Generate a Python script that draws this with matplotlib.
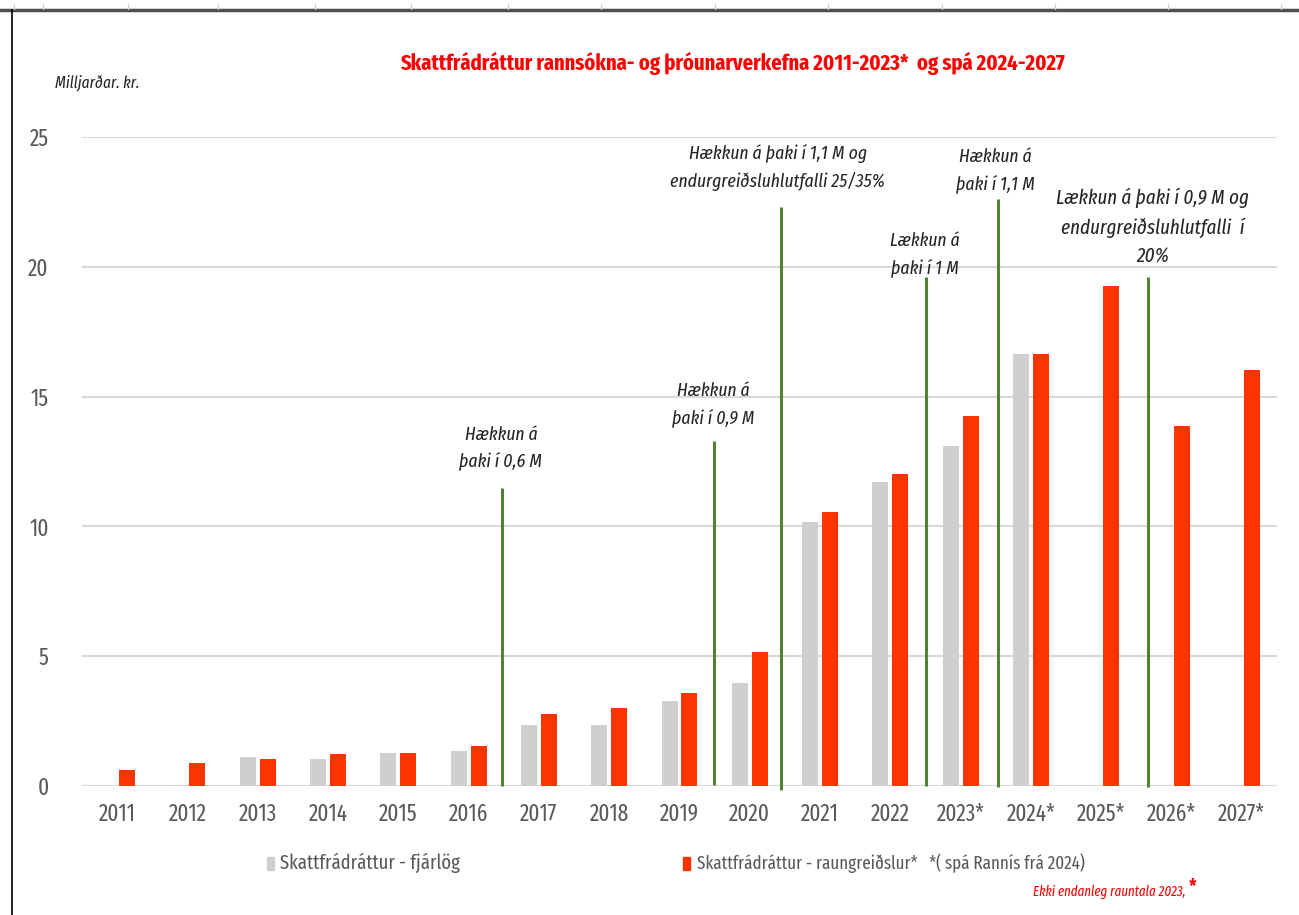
import matplotlib
matplotlib.use("Agg")
import matplotlib.pyplot as plt
from matplotlib.lines import Line2D
from matplotlib.patches import Rectangle
import numpy as np

FONT = ['Fira Sans Extra Condensed', 'DejaVu Sans']
plt.rcParams['font.family'] = FONT

years = ["2011", "2012", "2013", "2014", "2015", "2016", "2017", "2018", "2019",
         "2020", "2021", "2022", "2023*", "2024*", "2025*", "2026*", "2027*"]
fjarlog = [np.nan, np.nan, 1.12, 1.04, 1.27, 1.35, 2.35, 2.35, 3.27, 3.97,
           10.17, 11.71, 13.10, 16.64, np.nan, np.nan, np.nan]
raungreidslur = [0.62, 0.89, 1.04, 1.23, 1.27, 1.54, 2.77, 3.00, 3.58, 5.16,
                 10.55, 12.02, 14.25, 16.64, 19.26, 13.87, 16.02]

# policy-change markers (category position, bottom, top)
change_x = [5.47, 8.49, 9.44, 11.51, 12.53, 14.67]
change_bottom = [0.0, 0.05, -0.15, 0.0, -0.05, -0.05]
change_top = [11.48, 13.30, 22.30, 19.60, 22.60, 19.60]
change_text = [
    "Hækkun á\nþaki í 0,6 M",
    "Hækkun á\nþaki í 0,9 M",
    "Hækkun á þaki í 1,1 M og\nendurgreiðsluhlutfalli 25/35%",
    "Lækkun á\nþaki í 1 M",
    "Hækkun á\nþaki í 1,1 M",
    "Lækkun á þaki í 0,9 M og\nendurgreiðsluhlutfalli  í\n20%",
]
text_x = [5.46, 8.48, 9.40, 11.49, 12.50, 14.73]
text_y = [13.0, 14.68, 23.84, 20.45, 23.69, 21.53]
text_scale = [1.0, 1.0, 1.0, 1.0, 1.0, 1.08]

title = "Skattfrádráttur rannsókna- og þróunarverkefna 2011-2023*  og spá 2024-2027"
ylabel = "Milljarðar. kr."
leg1 = "Skattfrádráttur - fjárlög"
leg2 = "Skattfrádráttur - raungreiðslur*   *( spá Rannís frá 2024)"
footnote = "Ekki endanleg rauntala 2023, "

GREY = "#D0CECE"
RED = "#FF3300"
GREEN = "#548235"
TXT = "#595959"

W, H = 1299, 915
fig = plt.figure(figsize=(W / 100, H / 100), dpi=100)
renderer = fig.canvas.get_renderer()

BOOST = 1.13  # reference glyphs are narrower than any installed face; compromise


def fit(t, target_px, boost=BOOST):
    """scale font size of text t so that its width is about target_px"""
    t.set_fontsize(20)
    w = t.get_window_extent(renderer).width
    t.set_fontsize(20 * target_px / w * boost)
    return t


def fitted_size(s, target_px, boost=BOOST, **kw):
    p = fig.text(0, 0, s, **kw)
    fit(p, target_px, boost)
    fs = p.get_fontsize()
    p.remove()
    return fs


ax = fig.add_axes([82 / W, 1 - 786 / H, (1277 - 82) / W, (786 - 137) / H])

x = np.arange(len(years))
bw = 0.228
off = 0.142
ax.bar(x - off, fjarlog, width=bw, color=GREY, zorder=3)
ax.bar(x + off, raungreidslur, width=bw, color=RED, zorder=3)

for cx, b, t in zip(change_x, change_bottom, change_top):
    ax.plot([cx, cx], [b, t], color=GREEN, lw=2.2, zorder=4, clip_on=False,
            solid_capstyle='butt')

ann_fs = fitted_size("þaki í 0,6 M", 68, boost=1.22, style='italic')
for tx, ty, s, sc in zip(text_x, text_y, change_text, text_scale):
    ax.text(tx, ty, s, ha='center', va='center', style='italic',
            color='#262626', linespacing=1.6, zorder=5, fontsize=ann_fs * sc)

ax.set_xlim(-0.5, len(years) - 0.5)
ax.set_ylim(0, 25)
ax.set_yticks([0, 5, 10, 15, 20, 25])
ax.set_xticks(x)
ax.set_xticklabels(years)

tick_fs = fitted_size("2011", 33)
ax.tick_params(axis='both', length=0, labelsize=tick_fs, colors=TXT)
ax.tick_params(axis='y', pad=24)
ax.tick_params(axis='x', pad=12)
ax.yaxis.grid(True, color="#D9D9D9", lw=1.5, zorder=0)
for sp in ax.spines.values():
    sp.set_visible(False)
ax.axhline(0, color="#D9D9D9", lw=1.5, zorder=2)

fit(fig.text(732 / W, 1 - 63 / H, title, ha='center', va='center', color='#FF0000',
             fontweight='bold'), 590)
fit(fig.text(55 / W, 1 - 83 / H, ylabel, ha='left', va='center', style='italic',
             color='#262626'), 75)

# legend
fig.add_artist(Rectangle((267 / W, 1 - 870 / H), 7 / W, 13 / H, transform=fig.transFigure,
                         color=GREY))
fit(fig.text(280 / W, 1 - 863 / H, leg1, ha='left', va='center', color=TXT), 160)
fig.add_artist(Rectangle((683 / W, 1 - 870 / H), 7 / W, 13 / H, transform=fig.transFigure,
                         color=RED))
fit(fig.text(697 / W, 1 - 863 / H, leg2, ha='left', va='center', color=TXT), 343)

fn = fit(fig.text(1033 / W, 1 - 892 / H, footnote, ha='left', va='center', style='italic',
                  color='#FF0000'), 138)
fn_end = fn.get_window_extent(renderer).x1
fig.text(fn_end / W, 1 - 887 / H, "*", ha='left', va='center', fontsize=14,
         fontweight='bold', color='#FF0000')

# spreadsheet frame
fig.add_artist(Line2D([0, 1], [1 - 10 / H, 1 - 10 / H], transform=fig.transFigure,
                      color='#505050', lw=2.5))
fig.add_artist(Line2D([11.5 / W, 11.5 / W], [0, 1 - 10 / H], transform=fig.transFigure,
                      color='black', lw=1.2))
for cx in [14, 43, 128, 218, 315, 411, 508, 601, 715, 828, 942, 1055, 1168, 1281]:
    fig.add_artist(Line2D([cx / W, cx / W], [1 - 4 / H, 1 - 9 / H], transform=fig.transFigure,
                          color='#D0D0D0', lw=0.8))

fig.savefig("out.png", dpi=100, facecolor='white')
